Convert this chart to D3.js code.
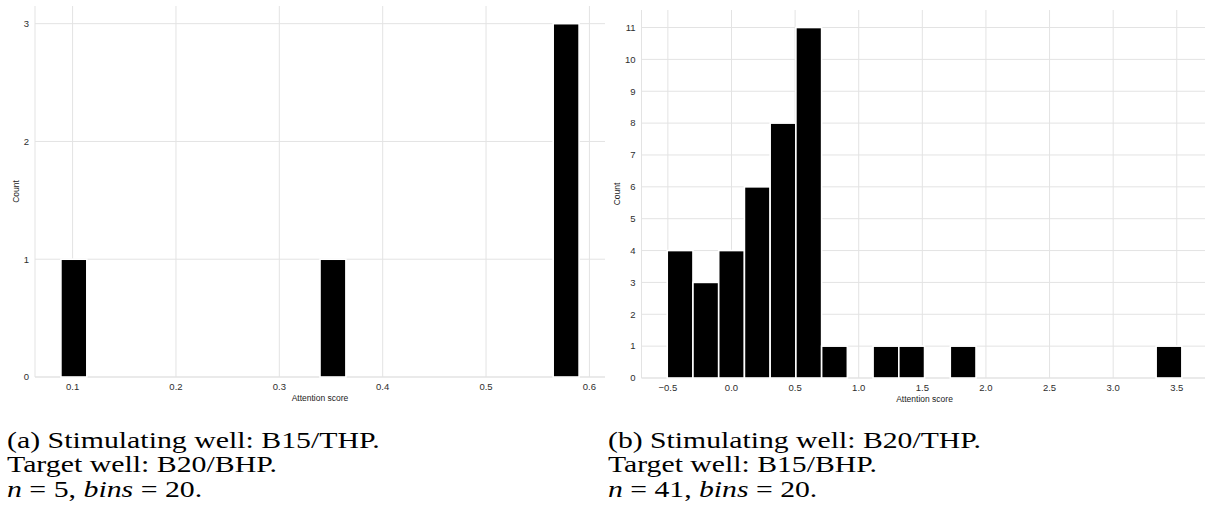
<!DOCTYPE html>
<html>
<head>
<meta charset="utf-8">
<script src="https://cdn.jsdelivr.net/npm/d3@7"></script>
<style>
  html, body { margin: 0; padding: 0; background: #fff; }
  svg { display: block; }
</style>
</head>
<body>
<svg id="chart" width="1205" height="513"></svg>
<script>
// histogram counts per bin (20 bins)
const countsA = [1, 0, 0, 0, 0, 0, 0, 0, 0, 0, 1, 0, 0, 0, 0, 0, 0, 0, 0, 3];
const rangeA = [0.0887, 0.590];
const xTicksA = [0.1, 0.2, 0.3, 0.4, 0.5, 0.6];
const yTicksA = [0, 1, 2, 3];

const countsB = [4, 3, 4, 6, 8, 11, 1, 0, 1, 1, 0, 1, 0, 0, 0, 0, 0, 0, 0, 1];
const rangeB = [-0.505, 3.54];
const xTicksB = [-0.5, 0.0, 0.5, 1.0, 1.5, 2.0, 2.5, 3.0, 3.5];
const yTicksB = [0, 1, 2, 3, 4, 5, 6, 7, 8, 9, 10, 11];

const captionA = ["(a) Stimulating well: B15/THP.", "Target well: B20/BHP.", ["n", " = 5, ", "bins", " = 20."]];
const captionB = ["(b) Stimulating well: B20/THP.", "Target well: B15/BHP.", ["n", " = 41, ", "bins", " = 20."]];

const svg = d3.select("#chart");
const GRID = "#e3e3e3";
const TEXT = "#2e2e2e";
const SANS = "Liberation Sans, Arial, sans-serif";

function drawPanel(p) {
  const nb = p.counts.length;
  const step = (p.range[1] - p.range[0]) / nb;
  const bins = p.counts.map((c, i) => ({ x0: p.range[0] + i * step, x1: p.range[0] + (i + 1) * step, c }));
  const pad = (p.range[1] - p.range[0]) * 0.05;
  const ymax = d3.max(p.counts) * 1.05;

  const x = d3.scaleLinear().domain([p.range[0] - pad, p.range[1] + pad]).range([p.left, p.right]);
  const y = d3.scaleLinear().domain([0, ymax]).range([p.bottom, p.top]);

  const g = svg.append("g");

  // grid
  g.append("g").selectAll("line").data(p.xTicks).join("line")
    .attr("x1", d => x(d)).attr("x2", d => x(d))
    .attr("y1", p.top).attr("y2", p.bottom)
    .attr("stroke", GRID).attr("stroke-width", 1);
  g.append("g").selectAll("line").data(p.yTicks).join("line")
    .attr("x1", p.left).attr("x2", p.right)
    .attr("y1", d => y(d)).attr("y2", d => y(d))
    .attr("stroke", GRID).attr("stroke-width", 1);
  // left + bottom spines
  g.append("line").attr("x1", p.left).attr("x2", p.left).attr("y1", p.top).attr("y2", p.bottom)
    .attr("stroke", GRID);
  g.append("line").attr("x1", p.left).attr("x2", p.right).attr("y1", p.bottom).attr("y2", p.bottom)
    .attr("stroke", GRID);

  // bars
  g.append("g").selectAll("rect").data(bins.filter(b => b.c > 0)).join("rect")
    .attr("x", d => x(d.x0)).attr("width", d => x(d.x1) - x(d.x0))
    .attr("y", d => y(d.c)).attr("height", d => y(0) - y(d.c))
    .attr("fill", "#000").attr("stroke", "#fff").attr("stroke-width", 1.6);

  // tick labels
  const fmt = d3.format(".1f");
  g.append("g").selectAll("text").data(p.xTicks).join("text")
    .attr("x", d => x(d)).attr("y", p.bottom + 13)
    .attr("text-anchor", "middle")
    .attr("font-family", SANS).attr("font-size", 9.5)
    .attr("fill", TEXT)
    .text(d => fmt(d).replace("-", "\u2212"));
  g.append("g").selectAll("text").data(p.yTicks).join("text")
    .attr("x", p.left - 6).attr("y", d => y(d)).attr("dy", "0.35em")
    .attr("text-anchor", "end")
    .attr("font-family", SANS).attr("font-size", 9.5)
    .attr("fill", TEXT)
    .text(d => d);

  // axis labels
  g.append("text")
    .attr("x", (p.left + p.right) / 2)
    .attr("y", p.bottom + 24)
    .attr("text-anchor", "middle")
    .attr("font-family", SANS).attr("font-size", 8.5)
    .attr("fill", "#222")
    .text("Attention score");
  g.append("text")
    .attr("transform", `translate(${p.yLabelX},${(p.top + p.bottom) / 2}) rotate(-90)`)
    .attr("text-anchor", "middle")
    .attr("font-family", SANS).attr("font-size", 8.5)
    .attr("fill", "#222")
    .text("Count");

  // caption (serif, stretched a little to the width of the LaTeX original)
  const cap = svg.append("g")
    .attr("font-family", "Liberation Serif, Times New Roman, serif")
    .attr("font-size", 24).attr("fill", "#000");
  const lines = p.caption.map((line, i) => {
    const t = cap.append("text").attr("x", 0).attr("y", i * 24.5);
    if (Array.isArray(line)) {
      line.forEach((s, j) => t.append("tspan").attr("font-style", j % 2 === 0 ? "italic" : null).text(s));
    } else {
      t.text(line);
    }
    return t;
  });
  const w = lines[0].node().getComputedTextLength();
  const sx = 373 / w;
  cap.attr("transform", `translate(${p.capX},448) scale(${sx},1)`);
}

drawPanel({
  counts: countsA, range: rangeA, xTicks: xTicksA, yTicks: yTicksA,
  left: 35, right: 605, top: 6, bottom: 377, yLabelX: 19, capX: 7, caption: captionA
});
drawPanel({
  counts: countsB, range: rangeB, xTicks: xTicksB, yTicks: yTicksB,
  left: 641.5, right: 1207.6, top: 10, bottom: 378, yLabelX: 620, capX: 608, caption: captionB
});
</script>
</body>
</html>
